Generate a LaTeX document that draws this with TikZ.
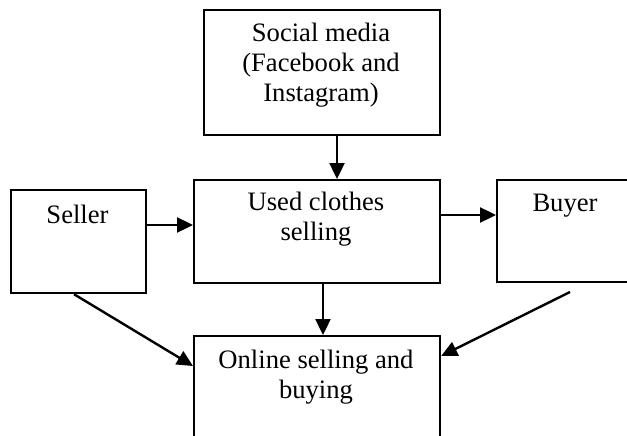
\documentclass[tikz,border=0pt]{standalone}
\usepackage{fontspec}
\setmainfont{Liberation Serif}
\usetikzlibrary{arrows.meta}
\begin{document}
\begin{tikzpicture}[x=1pt,y=-1pt,
  box/.style={draw=black,line width=2.2pt,inner sep=0pt,anchor=north west},
  txt/.style={font=\fontsize{26.6}{30}\selectfont,align=center,inner sep=0pt,anchor=north},
  arr/.style={line width=2.4pt,-{Triangle[length=16pt,width=15pt]}}]
\clip (0,0) rectangle (627,436);
\fill[white] (0,0) rectangle (627,436);
\node[box,minimum width=236pt,minimum height=125pt] (social) at (203,9) {};
\node[box,minimum width=246pt,minimum height=103pt] (used) at (193,179) {};
\node[box,minimum width=135pt,minimum height=103pt] (seller) at (10,189) {};
\node[box,minimum width=138pt,minimum height=102pt] (buyer) at (496,179) {};
\node[box,minimum width=246pt,minimum height=140pt] (online) at (193,335) {};
\node[txt] (socialtxt) at (321,23) {Social media\\(Facebook and\\Instagram)};
\node[txt] (usedtxt) at (316,192) {Used clothes\\selling};
\node[txt] (sellertxt) at (77.5,205) {Seller};
\node[txt] (buyertxt) at (565,194) {Buyer};
\node[txt] (onlinetxt) at (316,350) {Online selling and\\buying};
\coordinate (bstart) at (570,292);
\draw[arr] (social.south -| 337,0) -- (used.north -| 337,0);
\draw[arr] (seller.east |- 0,225) -- (used.west |- 0,225);
\draw[arr] (used.east |- 0,215) -- (buyer.west |- 0,215);
\draw[arr] (used.south -| 323,0) -- (online.north -| 323,0);
\draw[arr] (seller.south -| 74,0) -- (online.west |- 0,366);
\draw[arr] (bstart) -- (online.east |- 0,356);
\end{tikzpicture}
\end{document}
